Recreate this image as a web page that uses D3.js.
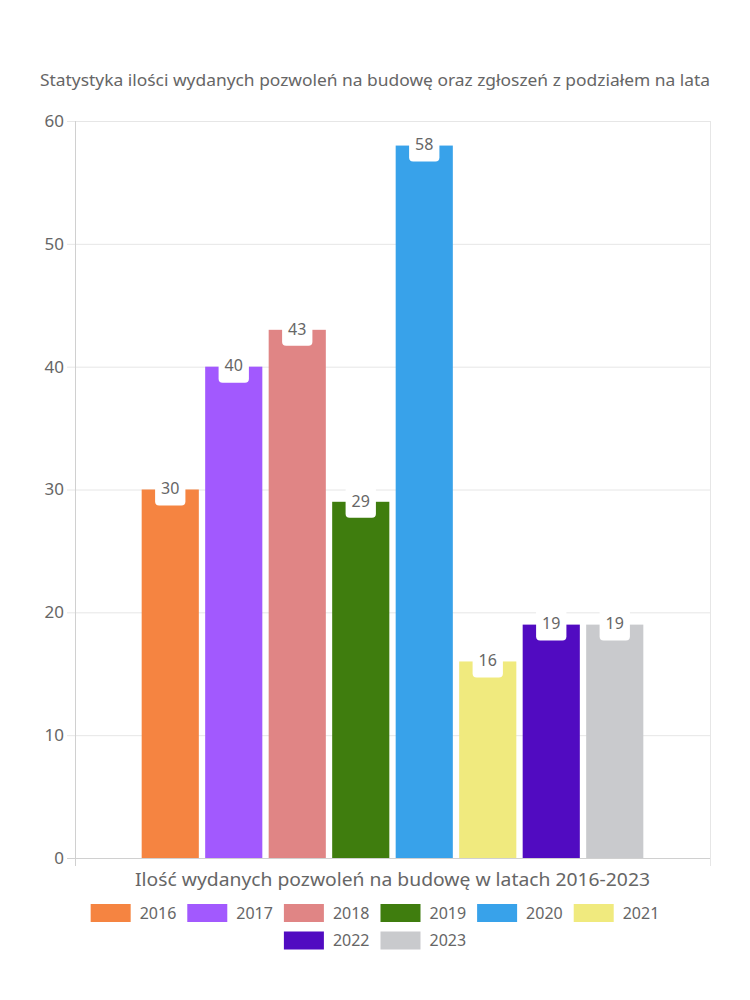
<!DOCTYPE html>
<html><head><meta charset="utf-8">
<script src="https://cdn.jsdelivr.net/npm/d3@7"></script>
<style>body{margin:0;background:#fff}svg{display:block}text{font-family:"Noto Sans",Lato,sans-serif}</style>
</head><body>
<script>
const years = ["2016","2017","2018","2019","2020","2021","2022","2023"];
const values = [30,40,43,29,58,16,19,19];
const colors = ["#f58441","#a259fe","#e08585","#3f7d0e","#38a2ea","#f0ea7e","#510bc1","#c9cacd"];
const yTicks = [0,10,20,30,40,50,60];
const title = "Statystyka ilości wydanych pozwoleń na budowę oraz zgłoszeń z podziałem na lata";
const xTitle = "Ilość wydanych pozwoleń na budowę w latach 2016-2023";

const W=750,H=1000;
const m={l:75,r:40,t:121,b:142};
const svg=d3.select("body").append("svg").attr("width",W).attr("height",H);
const pw=W-m.l-m.r, ph=H-m.t-m.b;
const y=d3.scaleLinear().domain([0,60]).range([m.t+ph,m.t]);
// group = 80% of category, bars 90% of slot
const gx0=m.l+pw*0.1, gx1=m.l+pw*0.9;
const xb=d3.scaleBand().domain(years).range([gx0,gx1]).paddingInner(0.1).paddingOuter(0.05);

// title
svg.append("text").attr("x",W/2).attr("y",86).attr("text-anchor","middle")
 .attr("font-size",16).attr("fill","#666").attr("textLength",670).attr("lengthAdjust","spacingAndGlyphs").text(title);

// gridlines
svg.append("g").selectAll("line").data(yTicks).join("line")
 .attr("x1",m.l-8).attr("x2",m.l+pw).attr("y1",d=>y(d)+0.5).attr("y2",d=>y(d)+0.5)
 .attr("stroke",d=>d===0?"#d0d0d0":"#e6e6e6");
// vertical edges
[m.l, m.l+pw].forEach((vx,i)=>{
 svg.append("line").attr("x1",vx+0.5).attr("x2",vx+0.5).attr("y1",m.t).attr("y2",m.t+ph+8)
  .attr("stroke",i===0?"#d0d0d0":"#e6e6e6");
});
// y labels
svg.append("g").selectAll("text").data(yTicks).join("text")
 .attr("x",m.l-11).attr("y",d=>y(d)).attr("dy","0.35em").attr("text-anchor","end")
 .attr("font-size",17).attr("fill","#666").text(d=>d);

// bars
svg.append("g").selectAll("rect").data(values).join("rect")
 .attr("x",(d,i)=>xb(years[i])).attr("width",xb.bandwidth())
 .attr("y",d=>y(d)).attr("height",d=>y(0)-y(d)).attr("fill",(d,i)=>colors[i]);

// value labels
const lg=svg.append("g");
values.forEach((v,i)=>{
 const cx=xb(years[i])+xb.bandwidth()/2, cy=y(v);
 const t=lg.append("text").attr("x",cx).attr("y",cy).attr("dy","0.3em").attr("text-anchor","middle")
  .attr("font-size",16).attr("fill","#666").text(v);
 const w=t.node().getComputedTextLength()+12;
 lg.insert("rect","text").attr("x",cx-w/2).attr("y",cy-16).attr("width",w).attr("height",32)
  .attr("rx",4).attr("fill","#fff");
});

// x title
svg.append("text").attr("x",m.l+pw/2).attr("y",886).attr("text-anchor","middle")
 .attr("font-size",18).attr("fill","#666").attr("textLength",515).attr("lengthAdjust","spacingAndGlyphs").text(xTitle);

// legend
const items=years.map((yr,i)=>({yr,c:colors[i]}));
const tmp=svg.append("text").attr("font-size",16);
items.forEach(it=>{tmp.text(it.yr);it.tw=tmp.node().getComputedTextLength();it.w=49+it.tw;});
tmp.remove();
const gap=11, maxW=600;
const rows=[];let cur=[],cw=0;
items.forEach(it=>{const add=(cur.length?gap:0)+it.w;
 if(cur.length && cw+add>maxW){rows.push(cur);cur=[];cw=0;}
 cw+=(cur.length?gap:0)+it.w;cur.push(it);});
if(cur.length)rows.push(cur);
rows.forEach((r,ri)=>{
 const tot=d3.sum(r,d=>d.w)+gap*(r.length-1);
 let cx=W/2-tot/2; const cy=913+ri*27.5;
 r.forEach(it=>{
  svg.append("rect").attr("x",cx).attr("y",cy-9).attr("width",40).attr("height",18).attr("fill",it.c);
  svg.append("text").attr("x",cx+49).attr("y",cy).attr("dy","0.35em").attr("font-size",16).attr("fill","#666").text(it.yr);
  cx+=it.w+gap;
 });
});
</script>
</body></html>
